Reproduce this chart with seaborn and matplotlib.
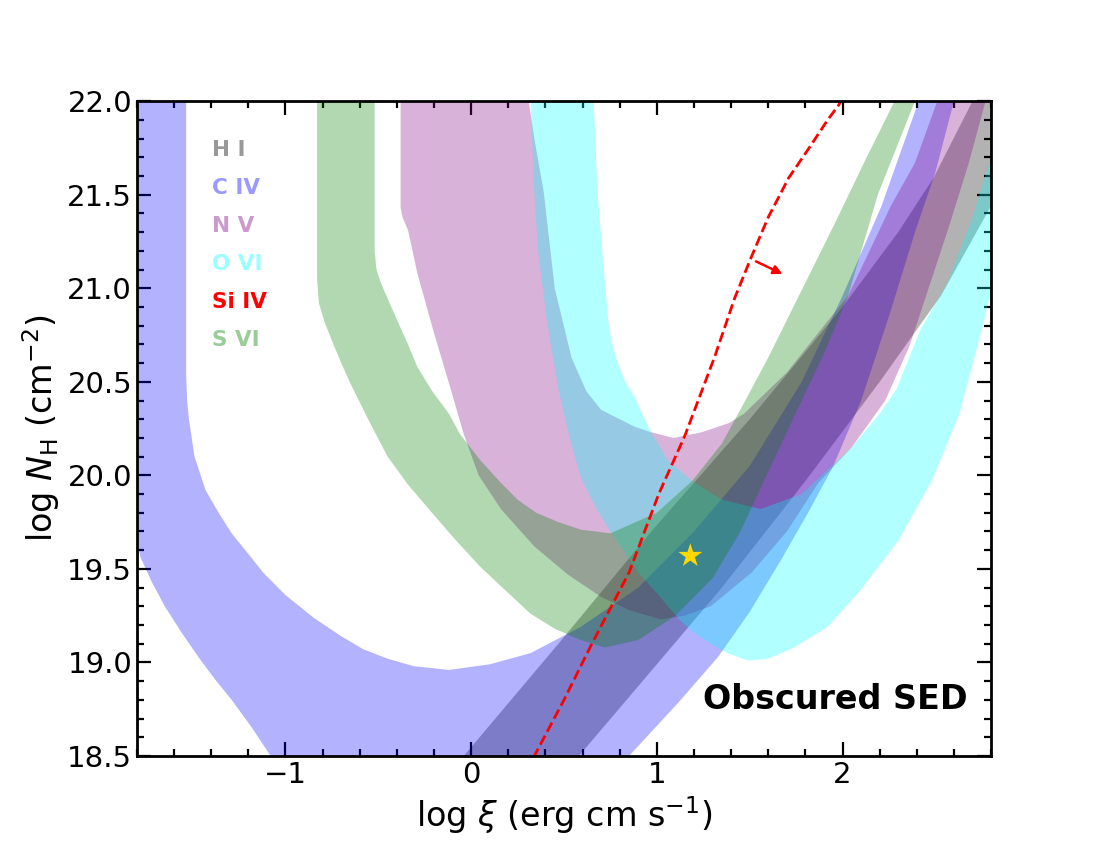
import numpy as np
import matplotlib
matplotlib.use("Agg")
from matplotlib import pyplot as plt
import seaborn as sns

# ---- data (log xi, log N_H) ----
hi_left_x = [-0.2, -0.04, 0.47, 0.97, 1.5, 2.0, 2.3, 2.49, 2.70, 2.85]
hi_left_y = [18.3, 18.5, 19.10, 19.70, 20.3, 20.9, 21.3, 21.59, 22.0, 22.3]
hi_right_x = [0.42, 0.58, 0.88, 1.35, 1.8, 2.2, 2.53, 2.8, 2.95, 3.1]
hi_right_y = [18.3, 18.5, 18.85, 19.40, 19.97, 20.5, 20.96, 21.44, 21.75, 22.3]

civ_outer_x = [-2.0, -1.88, -1.78, -1.72, -1.65, -1.56, -1.47, -1.38, -1.29, -1.18, -1.08, -0.8,
               -0.3, 0.3, 0.6, 0.85, 1.12, 1.33, 1.5, 1.67, 1.82, 1.95, 2.1, 2.25, 2.39, 2.50,
               2.60, 2.68]
civ_outer_y = [22.5, 20.0, 19.56, 19.43, 19.30, 19.16, 19.03, 18.91, 18.80, 18.65, 18.50, 18.2,
               18.0, 18.05, 18.25, 18.5, 18.79, 19.03, 19.27, 19.55, 19.81, 20.05, 20.4, 20.85,
               21.3, 21.62, 22.0, 22.3]
civ_inner_x = [-1.535, -1.535, -1.53, -1.52, -1.49, -1.43, -1.36, -1.29, -1.2, -1.12, -1.0,
               -0.85, -0.7, -0.58, -0.45, -0.31, -0.12, 0.1, 0.32, 0.59, 0.9, 1.2, 1.5, 1.78,
               2.0, 2.21, 2.41, 2.5]
civ_inner_y = [22.5, 20.55, 20.40, 20.3, 20.1, 19.92, 19.8, 19.69, 19.58, 19.48, 19.36,
               19.24, 19.14, 19.07, 19.02, 18.98, 18.96, 18.99, 19.05, 19.19, 19.4, 19.7, 20.05,
               20.5, 20.96, 21.44, 22.0, 22.3]

nv_outer_x = [-0.38, -0.38, -0.37, -0.34, -0.29, -0.20, -0.11, -0.04, 0.04, 0.16, 0.34, 0.52,
              0.70, 0.85, 1.02, 1.15, 1.29, 1.51, 1.7, 1.87, 2.05, 2.23, 2.36, 2.48, 2.57, 2.68,
              2.77, 2.85]
nv_outer_y = [22.5, 21.43, 21.38, 21.31, 21.08, 20.76, 20.46, 20.22, 20.0, 19.82, 19.62, 19.47,
              19.35, 19.28, 19.23, 19.25, 19.30, 19.48, 19.7, 19.96, 20.15, 20.40, 20.69, 21.05,
              21.32, 21.67, 22.0, 22.3]
nv_inner_x = [0.31, 0.31, 0.34, 0.39, 0.45, 0.54, 0.62, 0.70, 0.88, 0.97, 1.09, 1.24, 1.39,
              1.47, 1.7, 1.9, 2.03, 2.16, 2.26, 2.39, 2.51, 2.58]
nv_inner_y = [22.5, 22.0, 21.8, 21.52, 21.0, 20.63, 20.45, 20.35, 20.26, 20.23, 20.20, 20.23,
              20.28, 20.33, 20.55, 20.8, 20.96, 21.23, 21.44, 21.67, 22.0, 22.2]

ovi_outer_x = [0.32, 0.32, 0.34, 0.36, 0.41, 0.47, 0.53, 0.59, 0.67, 0.75, 0.9, 1.0, 1.12, 1.2,
               1.29, 1.38, 1.49, 1.6, 1.74, 1.92, 2.10, 2.3, 2.48, 2.63, 2.75, 2.85, 2.95]
ovi_outer_y = [22.5, 22.0, 21.52, 21.2, 20.81, 20.46, 20.2, 19.99, 19.83, 19.7, 19.48, 19.37,
               19.23, 19.16, 19.10, 19.05, 19.01, 19.02, 19.08, 19.19, 19.39, 19.65, 19.97,
               20.33, 20.78, 21.2, 21.6]
ovi_inner_x = [0.66, 0.66, 0.68, 0.71, 0.74, 0.76, 0.79, 0.83, 0.88, 0.92, 0.97, 1.06, 1.19,
               1.35, 1.56, 1.78, 2.05, 2.2, 2.29, 2.42, 2.57, 2.7, 2.8, 2.9]
ovi_inner_y = [22.5, 22.0, 21.52, 21.15, 20.81, 20.7, 20.6, 20.5, 20.42, 20.33, 20.23, 20.08,
               19.97, 19.87, 19.82, 19.90, 20.15, 20.33, 20.46, 20.78, 21.04, 21.38, 21.70, 22.05]

svi_outer_x = [-0.83, -0.83, -0.82, -0.79, -0.75, -0.70, -0.65, -0.55, -0.45, -0.34, -0.22,
               -0.08, 0.05, 0.19, 0.32, 0.45, 0.59, 0.72, 0.9, 1.1, 1.3, 1.45, 1.6, 1.78, 1.9,
               2.03, 2.19, 2.39, 2.45]
svi_outer_y = [22.5, 21.05, 20.92, 20.82, 20.72, 20.6, 20.49, 20.29, 20.10, 19.95, 19.81,
               19.65, 19.51, 19.38, 19.26, 19.18, 19.12, 19.08, 19.12, 19.25, 19.45, 19.7, 20.02,
               20.40, 20.65, 20.96, 21.5, 22.0, 22.2]
svi_inner_x = [-0.52, -0.52, -0.51, -0.49, -0.47, -0.43, -0.39, -0.34, -0.29, -0.21, -0.12,
               -0.06, 0.05, 0.16, 0.25, 0.35, 0.47, 0.59, 0.75, 1.0, 1.19, 1.35, 1.46, 1.60,
               1.78, 1.96, 2.12, 2.28, 2.35]
svi_inner_y = [22.5, 21.2, 21.1, 21.04, 20.99, 20.9, 20.81, 20.7, 20.58, 20.45, 20.33, 20.22,
               20.08, 19.96, 19.87, 19.8, 19.75, 19.71, 19.69, 19.8, 19.97, 20.17, 20.37, 20.63,
               20.99, 21.35, 21.68, 22.0, 22.2]

siiv_x = [0.30, 0.34, 0.50, 0.65, 0.85, 1.01, 1.15, 1.31, 1.42, 1.51, 1.60, 1.71, 1.82, 1.92,
          1.98, 2.0]
siiv_y = [18.42, 18.5, 18.8, 19.10, 19.48, 19.90, 20.21, 20.63, 20.95, 21.17, 21.38, 21.59,
          21.75, 21.90, 21.98, 22.02]

best_xi = [1.18]
best_nh = [19.57]

ions = ['H I', 'C IV', 'N V', 'O VI', 'Si IV', 'S VI']
ion_colors = ['k', 'b', 'purple', 'cyan', 'red', 'g']

# ---- plot ----
sns.set_style("white")
plt.rcParams['font.family'] = ['DejaVu Sans']
for key in ['text.color', 'axes.labelcolor', 'xtick.color', 'ytick.color']:
    plt.rcParams[key] = 'black'

fig, ax = plt.subplots(figsize=(11, 8.5), dpi=100)
fig.subplots_adjust(left=0.1245, right=0.901, bottom=0.1106, top=0.881)

bands = [(hi_left_x, hi_left_y, hi_right_x, hi_right_y, 'k'),
         (civ_outer_x, civ_outer_y, civ_inner_x, civ_inner_y, 'b'),
         (nv_outer_x, nv_outer_y, nv_inner_x, nv_inner_y, 'purple'),
         (ovi_outer_x, ovi_outer_y, ovi_inner_x, ovi_inner_y, 'cyan'),
         (svi_outer_x, svi_outer_y, svi_inner_x, svi_inner_y, 'g')]
for ox, oy, ix, iy, c in bands:
    px = np.r_[ox, ix[::-1]]
    py = np.r_[oy, iy[::-1]]
    ax.fill(px, py, color=c, alpha=0.3, lw=0)

sns.lineplot(x=siiv_x, y=siiv_y, sort=False, estimator=None, ax=ax,
             color='red', linestyle='--', lw=2)
ax.annotate('', xy=(1.69, 21.07), xytext=(1.52, 21.15),
            arrowprops=dict(arrowstyle='-|>', color='red', lw=1.8, mutation_scale=13))

sns.scatterplot(x=best_xi, y=best_nh, marker='*', s=330, color='gold',
                edgecolor='none', ax=ax, zorder=5)

for i, (ion, c) in enumerate(zip(ions, ion_colors)):
    ax.text(0.088, 0.925 - i * 0.058, ion, transform=ax.transAxes, color=c,
            alpha=1.0 if ion == 'Si IV' else 0.4, fontsize=15.5, fontweight='bold',
            va='center', ha='left')

ax.text(2.675, 18.8, 'Obscured SED', fontsize=24, fontweight='bold', ha='right', va='center')

ax.set_xlim(-1.8, 2.8)
ax.set_ylim(18.5, 22.0)
ax.set_xticks([-1, 0, 1, 2])
ax.set_xticks(np.arange(-1.8, 2.81, 0.2), minor=True)
ax.set_yticks(np.arange(18.5, 22.01, 0.5))
ax.set_yticks(np.arange(18.5, 22.01, 0.1), minor=True)
ax.yaxis.set_major_formatter(matplotlib.ticker.FormatStrFormatter('%.1f'))
ax.tick_params(which='both', direction='in', top=True, right=True, bottom=True, left=True,
               width=1.6, labelsize=21, colors='black')
ax.tick_params(which='major', length=10)
ax.tick_params(which='minor', length=5)
for s in ax.spines.values():
    s.set_linewidth(2)
    s.set_color('k')

ax.set_xlabel(r'log $\xi$ (erg cm s$^{-1}$)', fontsize=24)
ax.set_ylabel(r'log $N_{\rm H}$ (cm$^{-2}$)', fontsize=24)

fig.savefig('out.png', dpi=100)
